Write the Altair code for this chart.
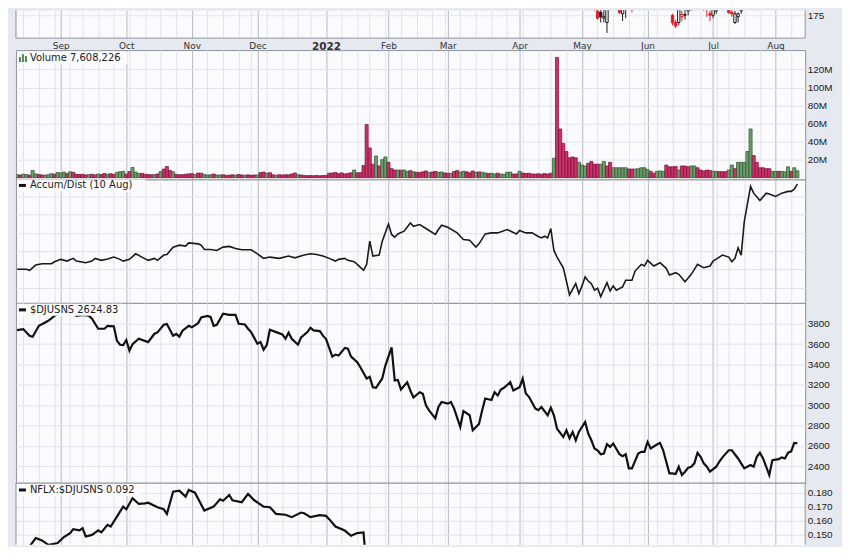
import json
import pandas as pd
import altair as alt

# ---------------- data ----------------
holidays = ["2021-09-06", "2021-11-25", "2021-12-24", "2022-01-17", "2022-02-21",
            "2022-04-15", "2022-05-30", "2022-06-20", "2022-07-04"]
first_day, last_day = "2021-08-12", "2022-08-10"

# daily volume (millions) and bar colour (g = up, r = down)
vol_millions = [
    3.2, 3.0, 3.8, 3.5, 2.8, 8.0, 4.2, 3.6, 3.0, 2.9,
    3.3, 4.4, 3.9, 5.8, 5.2, 6.2, 4.5, 6.5, 6.0, 3.8,
    3.5, 3.8, 3.0, 3.4, 3.8, 3.0, 4.1, 3.5, 4.6, 3.8,
    4.4, 3.6, 5.8, 6.6, 7.0, 3.9, 6.8, 11.3, 6.2, 4.5,
    4.8, 3.8, 3.5, 3.2, 3.5, 4.1, 6.8, 9.5, 12.4, 8.0,
    6.5, 3.6, 3.2, 3.3, 3.8, 4.2, 4.5, 3.4, 5.1, 5.0,
    3.6, 3.0, 3.2, 4.0, 3.0, 2.9, 3.3, 2.5, 2.8, 3.1,
    2.8, 3.5, 3.0, 2.7, 3.1, 2.6, 3.0, 3.0, 5.8, 6.2,
    4.8, 5.5, 3.3, 2.7, 3.2, 3.0, 3.2, 3.1, 4.0, 5.2,
    3.3, 3.0, 2.4, 2.2, 2.3, 2.1, 2.4, 2.0, 2.3, 2.5,
    5.0, 5.2, 5.8, 4.4, 5.3, 4.2, 4.6, 5.4, 8.5, 5.4,
    5.5, 13.5, 58.9, 33.0, 15.0, 24.0, 13.0, 20.0, 23.0, 17.0,
    10.0, 8.5, 8.5, 8.3, 8.5, 7.0, 7.8, 6.5, 6.0, 5.8,
    6.5, 7.5, 5.8, 6.2, 7.0, 6.0, 6.3, 5.2, 5.0, 4.8,
    6.8, 8.0, 6.2, 7.2, 6.5, 5.4, 7.5, 6.0, 6.4, 6.0,
    5.3, 4.5, 5.0, 4.2, 5.0, 4.0, 3.7, 6.0, 6.2, 4.0,
    4.2, 7.0, 5.2, 4.6, 4.8, 4.2, 4.0, 4.3, 3.8, 4.5,
    4.0, 5.0, 21.5, 133.4, 54.0, 38.0, 29.0, 22.0, 23.0, 22.0,
    17.0, 14.0, 13.0, 16.0, 18.0, 15.0, 15.0, 15.0, 18.0, 13.0,
    17.0, 11.0, 11.0, 11.0, 11.0, 11.0, 9.6, 9.6, 9.6, 10.0,
    11.0, 11.0, 9.0, 7.0, 5.0, 7.0, 7.5, 7.0, 14.0, 12.0,
    12.0, 12.5, 8.5, 13.0, 13.0, 12.0, 13.0, 13.0, 11.0, 8.5,
    7.5, 8.5, 8.0, 7.0, 7.0, 6.7, 6.7, 6.7, 8.5, 14.0,
    10.0, 17.0, 17.0, 17.0, 29.0, 54.0, 24.5, 17.0, 11.0, 11.0,
    10.0, 10.0, 7.0, 7.0, 7.0, 7.0, 6.5, 12.0, 7.0, 11.0, 7.6,
]
vol_dir = ("grggrggrrg" "ggrgggrgrr" "rrrgrrgrrg" "rrgggrrggg" "rrrrgrgrrr"
           "grrrrrrgrr" "gggrggrrrr" "grrgrrrgrr" "grrgrrrrrr" "grrrrrrrrr"
           "rrrrrrrrgr" "rrrrrgrggr" "rrgrggrgrr" "rrgrrggrrg" "rrggrrrgrg"
           "grggrggggr" "rgrrrrrrrr" "rrgrrrrrrr" "gggrrrrggr" "rgggggrrgg"
           "gggrrgggrr" "rrgrrrggrr" "rrrggrrrgg" "rgggggrrrr" "rrggrgggrgg")

# Accumulation/Distribution line (trading-day index, value in arbitrary millions)
ad_points = [
    (0, 20.1), (3, 20.1), (4, 19.0), (6, 24.8), (8, 26.2), (11, 26.2), (12, 28.4), (14, 31.0),
    (16, 29.1), (18, 32.1), (19, 29.1), (22, 27.3), (24, 29.1), (25, 32.1), (27, 29.9), (29, 31.3),
    (31, 33.5), (33, 31.0), (34, 29.1), (36, 31.0), (38, 37.1), (40, 33.5), (42, 29.9), (44, 32.1),
    (45, 29.9), (47, 35.7), (48, 36.4), (50, 44.4), (52, 46.6), (54, 45.5), (55, 49.1), (58, 48.0),
    (59, 46.6), (60, 41.9), (62, 41.9), (64, 40.8), (66, 44.4), (68, 45.2), (70, 43.0), (72, 41.5),
    (75, 41.5), (77, 37.1), (79, 32.1), (81, 33.5), (84, 32.1), (87, 34.6), (89, 32.7), (92, 35.7),
    (94, 37.1), (96, 36.4), (98, 34.6), (100, 32.1), (102, 29.1), (103, 31.0), (105, 32.1), (106, 29.9),
    (108, 28.4), (109, 25.5), (111, 19.0), (112, 25.5), (113, 50.9), (114, 34.6), (116, 35.7), (117, 50.9),
    (119, 69.8), (120, 58.3), (121, 55.3), (122, 58.9), (124, 61.9), (126, 70.9), (127, 67.3), (129, 69.2),
    (131, 64.8), (134, 58.3), (135, 63.7), (136, 68.4), (138, 66.2), (141, 60.0), (143, 52.8), (145, 52.0),
    (147, 44.4), (148, 48.0), (150, 58.9), (152, 60.0), (154, 60.0), (157, 63.7), (160, 58.9), (161, 62.6),
    (163, 60.0), (165, 60.0), (167, 56.1), (168, 54.5), (169, 56.4), (170, 54.5), (171, 64.8), (172, 40.8),
    (173, 33.5), (175, 21.8), (176, 7.3), (177, -8.0), (179, 4.4), (180, -6.5), (181, 1.9), (182, 11.7),
    (183, 7.3), (184, 4.4), (185, -2.8), (186, -0.7), (187, -9.8), (189, 5.5), (190, -3.6), (191, 1.9),
    (192, -2.8), (194, 0.8), (195, 8.1), (197, 8.1), (198, 18.2), (200, 25.5), (201, 23.7), (202, 29.9),
    (204, 23.7), (206, 27.3), (208, 21.2), (209, 13.9), (211, 16.4), (212, 14.6), (214, 6.5), (216, 14.6),
    (218, 25.5), (220, 21.8), (222, 23.7), (223, 29.1), (225, 33.5), (226, 35.7), (228, 33.5), (229, 28.4),
    (230, 32.1), (231, 43.6), (232, 35.7), (233, 72.8), (235, 111.0), (236, 103.6), (238, 95.4), (240, 103.6),
    (241, 102.6), (243, 100.0), (245, 103.6), (247, 105.5), (248, 105.5), (249, 108.0), (250, 113.5),
]

# $DJUSNS close
dj_points = [
    (0, 3738), (2, 3748), (4, 3683), (5, 3673), (7, 3780), (9, 3813), (10, 3829), (12, 3878),
    (14, 3915), (16, 3900), (18, 3925), (19, 3878), (21, 3888), (23, 3880), (24, 3850), (26, 3751),
    (28, 3751), (29, 3780), (31, 3775), (32, 3634), (33, 3594), (34, 3590), (35, 3640), (36, 3536),
    (37, 3600), (39, 3653), (42, 3620), (44, 3702), (45, 3715), (47, 3790), (48, 3797), (50, 3683),
    (51, 3700), (52, 3673), (53, 3732), (55, 3780), (56, 3765), (58, 3806), (59, 3862), (61, 3878),
    (62, 3868), (63, 3780), (64, 3790), (66, 3900), (68, 3888), (70, 3888), (71, 3800), (73, 3793),
    (74, 3751), (75, 3718), (77, 3604), (78, 3620), (79, 3545), (80, 3590), (81, 3741), (83, 3718),
    (85, 3695), (86, 3653), (87, 3712), (88, 3653), (90, 3594), (91, 3666), (93, 3718), (94, 3761),
    (95, 3735), (97, 3728), (98, 3683), (99, 3650), (101, 3477), (102, 3497), (103, 3487), (105, 3562),
    (106, 3555), (107, 3477), (109, 3421), (110, 3372), (112, 3262), (113, 3278), (114, 3176), (115, 3170),
    (117, 3262), (118, 3389), (120, 3568), (121, 3242), (122, 3248), (123, 3154), (125, 3225), (126, 3144),
    (127, 3075), (129, 3127), (130, 3112), (131, 2997), (132, 2948), (134, 2870), (135, 2981), (136, 3030),
    (138, 3014), (139, 3030), (140, 2968), (142, 2785), (143, 2941), (145, 2900), (146, 2752), (148, 2815),
    (149, 2948), (150, 3065), (152, 3050), (153, 3127), (154, 3095), (155, 3154), (156, 3170), (158, 3225),
    (159, 3144), (161, 3176), (162, 3259), (163, 3115), (164, 3082), (166, 2968), (167, 2950), (168, 2981),
    (170, 2899), (171, 2975), (172, 2899), (173, 2768), (175, 2687), (176, 2752), (177, 2674), (178, 2736),
    (179, 2654), (180, 2736), (182, 2834), (183, 2720), (184, 2654), (185, 2573), (186, 2556), (187, 2517),
    (188, 2524), (189, 2615), (190, 2589), (191, 2622), (193, 2517), (194, 2498), (195, 2517), (196, 2378),
    (197, 2378), (199, 2524), (200, 2540), (201, 2540), (202, 2638), (203, 2573), (205, 2612), (206, 2628),
    (207, 2556), (209, 2329), (210, 2329), (211, 2322), (212, 2394), (213, 2312), (214, 2345), (215, 2384),
    (216, 2394), (217, 2427), (218, 2531), (219, 2491), (220, 2427), (221, 2394), (222, 2345), (224, 2394),
    (225, 2443), (226, 2486), (228, 2556), (229, 2556), (231, 2475), (232, 2427), (233, 2378), (235, 2410),
    (236, 2394), (237, 2491), (238, 2531), (239, 2475), (240, 2394), (241, 2312), (242, 2459), (244, 2469),
    (245, 2486), (246, 2475), (247, 2530), (248, 2545), (249, 2628), (250, 2625),
]

# NFLX:$DJUSNS ratio
ratio_points = [
    (0, 0.1360), (3, 0.1376), (4, 0.1418), (6, 0.1478), (8, 0.1461), (10, 0.1430), (11, 0.1433),
    (13, 0.1442), (15, 0.1485), (17, 0.1513), (18, 0.1541), (20, 0.1532), (21, 0.1548), (22, 0.1489),
    (24, 0.1500), (26, 0.1532), (27, 0.1518), (29, 0.1572), (30, 0.1560), (32, 0.1630), (34, 0.1701),
    (35, 0.1682), (37, 0.1760), (39, 0.1720), (41, 0.1724), (42, 0.1729), (45, 0.1697), (47, 0.1682),
    (48, 0.1649), (50, 0.1807), (52, 0.1814), (54, 0.1772), (55, 0.1819), (57, 0.1800), (60, 0.1673),
    (63, 0.1701), (65, 0.1753), (66, 0.1743), (68, 0.1784), (69, 0.1746), (72, 0.1732), (74, 0.1791),
    (76, 0.1746), (79, 0.1701), (81, 0.1697), (83, 0.1649), (86, 0.1643), (88, 0.1626), (91, 0.1659),
    (92, 0.1654), (94, 0.1626), (97, 0.1640), (99, 0.1635), (100, 0.1612), (102, 0.1560), (105, 0.1531),
    (107, 0.1494), (109, 0.1513), (111, 0.1518), (112, 0.1250), (116, 0.1280), (119, 0.1210),
    (122, 0.1330), (125, 0.1350), (128, 0.1340), (135, 0.1270), (145, 0.1250), (160, 0.1150),
    (172, 0.1120), (173, 0.0780), (185, 0.0700), (200, 0.0740), (215, 0.0770), (230, 0.0780),
    (236, 0.0880), (250, 0.0920),
]

# NFLX daily candles (only the lower part of the price pane is visible)
candle_day = list(range(184, 235))
candle_open = [199, 186, 178, 177, 173, 170, 182, 185, 190, 187, 176, 183, 186, 183, 180, 188, 193,
               195, 198, 194, 202, 200, 196, 198, 193, 182, 175, 170, 170, 174, 175, 178, 180, 182,
               189, 189, 182, 179, 176, 175, 178, 185, 184, 185, 183, 177, 170, 174, 178, 183, 194]
candle_high = [200, 189, 182, 180, 182, 181, 189, 189, 192, 189, 183, 188, 189, 184, 188, 193, 196,
               199, 202, 206, 203, 205, 200, 200, 195, 185, 176, 172, 182, 178, 179, 184, 184, 190,
               191, 190, 186, 182, 178, 181, 188, 188, 191, 189, 183, 180, 178, 177, 181, 192, 202]
candle_low = [185, 178, 172, 170, 170, 162.7, 180, 182, 184, 176, 171, 173, 181, 177, 179, 186, 190,
              192, 190, 192, 196, 197, 193, 192, 184, 180, 168, 166, 168, 171, 172, 175, 178, 181,
              184, 179, 178, 174, 171, 173, 176, 182, 183, 183, 176, 174, 169, 170, 176, 182, 192]
candle_close = [188, 180, 173, 174, 174, 180, 187, 186, 190, 177, 180, 186, 187, 180, 187, 191, 195,
                197, 192, 205, 198, 199, 198, 196, 184, 182, 169.7, 167.5, 180, 175.5, 175.5, 183, 180,
                189, 190, 181, 180, 179, 175, 180, 186, 184, 189, 186, 177, 176, 176, 176, 180, 190, 201]

# ---------------- trading calendar ----------------
trade_days = [d for d in pd.bdate_range(first_day, last_day) if d.strftime("%Y-%m-%d") not in holidays]
N = len(trade_days)
assert len(vol_millions) == N and len(vol_dir) == N

week_start, month_start, month_label = [], [], []
for i in range(1, N):
    d, p = trade_days[i], trade_days[i - 1]
    if d.month != p.month:
        month_start.append(i)
        month_label.append("2022" if d.month == 1 else d.strftime("%b"))
    if d.isocalendar()[1] != p.isocalendar()[1]:
        week_start.append(i)
x_ticks = sorted(set(week_start + month_start))
jan_idx = month_start[month_label.index("2022")]

month_expr = ""
for i, lab in zip(month_start, month_label):
    month_expr += f"datum.value == {i} ? '{lab}' : "
month_expr += "''"
month_test = f"indexof({json.dumps(month_start)}, datum.value) >= 0"

# ---------------- style ----------------
BG = "#e6e9f0"
PLOT_BG = "#fbfbfd"
GRID = "#dfe3ea"
GRID_MONTH = "#b3b9c3"
BORDER = "#8d929b"
VOL_G, VOL_G_EDGE = "#6b9e6b", "#2f4f2f"
VOL_R, VOL_R_EDGE = "#d0306a", "#6e1232"
W = 793
xscale = alt.Scale(domain=[-0.35, 252.5], nice=False, zero=False)


def x_axis(show_labels=False):
    kw = dict(values=x_ticks, grid=True,
              gridColor={"condition": {"test": month_test, "value": GRID_MONTH}, "value": GRID},
              gridWidth=1, domain=False, ticks=False, title=None, labels=show_labels,
              labelOverlap=False, labelFlush=False)
    if show_labels:
        kw.update(labelExpr=month_expr, labelFont="DejaVu Sans",
                  labelFontSize={"condition": {"test": f"datum.value == {jan_idx}", "value": 10.5}, "value": 9},
                  labelFontWeight={"condition": {"test": f"datum.value == {jan_idx}", "value": "bold"}, "value": "normal"},
                  labelPadding=3, labelColor="#333333", labelBaseline="top")
    return alt.Axis(**kw)


def y_axis(values, labels=True, fmt=None, expr=None):
    kw = dict(orient="right", values=values, grid=True, gridColor=GRID, gridWidth=1,
              domain=False, ticks=False, title=None, labels=labels, labelPadding=2,
              labelFont="Liberation Sans", labelFontSize=10, labelColor="#1a1a1a",
              labelOverlap=False, labelFlush=False)
    if fmt:
        kw["format"] = fmt
    if expr:
        kw["labelExpr"] = expr
    return alt.Axis(**kw)


one_row = alt.Data(values=[{"k": 1}])


def legend_layers(text, yc, box_w, icon="dash"):
    layers = [alt.Chart(one_row).mark_rect(fill=PLOT_BG).encode(
        x=alt.value(1), x2=alt.value(box_w), y=alt.value(yc - 6), y2=alt.value(yc + 6))]
    if icon == "dash":
        layers.append(alt.Chart(one_row).mark_rule(color="#111111", strokeWidth=3).encode(
            x=alt.value(3), x2=alt.value(10), y=alt.value(yc)))
    else:
        for x0, top in [(3, yc - 1), (6, yc - 4), (9, yc - 2)]:
            layers.append(alt.Chart(one_row).mark_rect(color="#4c8a4c").encode(
                x=alt.value(x0), x2=alt.value(x0 + 2), y=alt.value(top), y2=alt.value(yc + 4)))
    layers.append(alt.Chart(one_row).mark_text(
        text=text, align="left", baseline="middle", font="DejaVu Sans", fontSize=10,
        color="#1a1a1a").encode(x=alt.value(14), y=alt.value(yc)))
    return layers


def border_rules(h, sides):
    out = []
    if "left" in sides:
        out.append(alt.Chart(one_row).mark_rule(color=BORDER).encode(x=alt.value(0), y=alt.value(0), y2=alt.value(h)))
    if "right" in sides:
        out.append(alt.Chart(one_row).mark_rule(color=BORDER).encode(x=alt.value(W), y=alt.value(0), y2=alt.value(h)))
    if "top" in sides:
        out.append(alt.Chart(one_row).mark_rule(color=BORDER).encode(x=alt.value(0), x2=alt.value(W), y=alt.value(0)))
    if "bottom" in sides:
        out.append(alt.Chart(one_row).mark_rule(color=BORDER).encode(x=alt.value(0), x2=alt.value(W), y=alt.value(h)))
    return out


# ---------------- price pane (bottom of it only) ----------------
cdf = pd.DataFrame({"idx": candle_day, "open": candle_open, "high": candle_high,
                    "low": candle_low, "close": candle_close})
prev = cdf["close"].shift(1).fillna(cdf["open"])
cdf["col"] = ["#d81f2a" if c < p else "#1a1a1a" for c, p in zip(cdf["close"], prev)]
cdf["body"] = [PLOT_BG if c > o else col for c, o, col in zip(cdf["close"], cdf["open"], cdf["col"])]
H_PRICE = 28
price_scale = alt.Scale(domain=[159.14, 178.45], nice=False, zero=False)
px_axis = x_axis(True)
py_axis = y_axis([175])
wick = alt.Chart(cdf).mark_rule(clip=True, strokeWidth=1).encode(
    x=alt.X("idx:Q", scale=xscale, axis=px_axis),
    y=alt.Y("low:Q", scale=price_scale, axis=py_axis), y2="high:Q",
    color=alt.Color("col:N", scale=None))
body = alt.Chart(cdf).transform_calculate(
    x0="datum.idx - 0.38", x1="datum.idx + 0.38").mark_rect(clip=True, strokeWidth=1).encode(
    x=alt.X("x0:Q", scale=xscale, axis=px_axis), x2="x1:Q",
    y=alt.Y("open:Q", scale=price_scale, axis=py_axis), y2="close:Q",
    fill=alt.Fill("body:N", scale=None), stroke=alt.Stroke("col:N", scale=None))
price_panel = alt.layer(wick, body, *border_rules(H_PRICE, ["left", "right", "bottom"])).properties(
    width=W, height=H_PRICE, view=alt.ViewBackground(fill=PLOT_BG, stroke="transparent"))

# ---------------- volume ----------------
H_VOL = 130
vol_df = pd.DataFrame({"idx": list(range(N)), "vol": vol_millions, "dir": list(vol_dir)})
vol_bars = alt.Chart(vol_df).transform_calculate(
    x0="datum.idx - 0.5", x1="datum.idx + 0.5").mark_bar(strokeWidth=0.7, clip=True).encode(
    x=alt.X("x0:Q", scale=xscale, axis=x_axis()), x2="x1:Q",
    y=alt.Y("vol:Q", scale=alt.Scale(domain=[-2.0, 141.5], nice=False, zero=False), stack=None,
            axis=y_axis([20, 40, 60, 80, 100, 120], expr="datum.value + 'M'")),
    y2=alt.datum(0),
    fill=alt.Fill("dir:N", scale=alt.Scale(domain=["g", "r"], range=[VOL_G, VOL_R]), legend=None),
    stroke=alt.Stroke("dir:N", scale=alt.Scale(domain=["g", "r"], range=[VOL_G_EDGE, VOL_R_EDGE]), legend=None))
vol_panel = alt.layer(vol_bars, *legend_layers("Volume 7,608,226", 8, 112, icon="bars")).properties(
    width=W, height=H_VOL, view=alt.ViewBackground(fill=PLOT_BG, stroke=BORDER))

# ---------------- accumulation / distribution ----------------
H_AD = 124
ad_df = pd.DataFrame(ad_points, columns=["idx", "v"])
ad_line = alt.Chart(ad_df).mark_line(color="#1a1a1a", strokeWidth=1.6, clip=True).encode(
    x=alt.X("idx:Q", scale=xscale, axis=x_axis()),
    y=alt.Y("v:Q", scale=alt.Scale(domain=[-16.7, 118.6], nice=False, zero=False),
            axis=y_axis([0, 20, 40, 60, 80, 100], labels=False)))
ad_panel = alt.layer(ad_line, *legend_layers("Accum/Dist (10 Aug)", 6, 130)).properties(
    width=W, height=H_AD, view=alt.ViewBackground(fill=PLOT_BG, stroke=BORDER))

# ---------------- $DJUSNS ----------------
H_DJ = 181
dj_df = pd.DataFrame(dj_points, columns=["idx", "v"])
dj_line = alt.Chart(dj_df).mark_line(color="#111111", strokeWidth=2.2, clip=True).encode(
    x=alt.X("idx:Q", scale=xscale, axis=x_axis()),
    y=alt.Y("v:Q", scale=alt.Scale(domain=[2233.6, 4005.6], nice=False, zero=False),
            axis=y_axis(list(range(2400, 3801, 200)), fmt="d")))
dj_panel = alt.layer(dj_line, *legend_layers("$DJUSNS 2624.83", 7, 108)).properties(
    width=W, height=H_DJ, view=alt.ViewBackground(fill=PLOT_BG, stroke=BORDER))

# ---------------- NFLX:$DJUSNS ----------------
H_RATIO = 62
ratio_df = pd.DataFrame(ratio_points, columns=["idx", "v"])
ratio_line = alt.Chart(ratio_df).mark_line(color="#111111", strokeWidth=2.2, clip=True).encode(
    x=alt.X("idx:Q", scale=xscale, axis=x_axis()),
    y=alt.Y("v:Q", scale=alt.Scale(domain=[0.18686 - H_RATIO / 1415.0, 0.18686], nice=False, zero=False),
            axis=y_axis([0.15, 0.16, 0.17, 0.18], fmt=".3f")))
ratio_panel = alt.layer(ratio_line, *legend_layers("NFLX:$DJUSNS 0.092", 7, 125),
                        *border_rules(H_RATIO, ["left", "right", "top"])).properties(
    width=W, height=H_RATIO, view=alt.ViewBackground(fill=PLOT_BG, stroke="transparent"))

lower = alt.vconcat(vol_panel, ad_panel, dj_panel, ratio_panel, spacing=0, bounds="flush")
chart = alt.vconcat(price_panel, lower, spacing=12, bounds="flush").properties(
    background=BG, padding={"left": 7, "top": 0, "right": 9, "bottom": 0})

chart.save("out.html", embed_options={"renderer": "svg", "actions": False})
